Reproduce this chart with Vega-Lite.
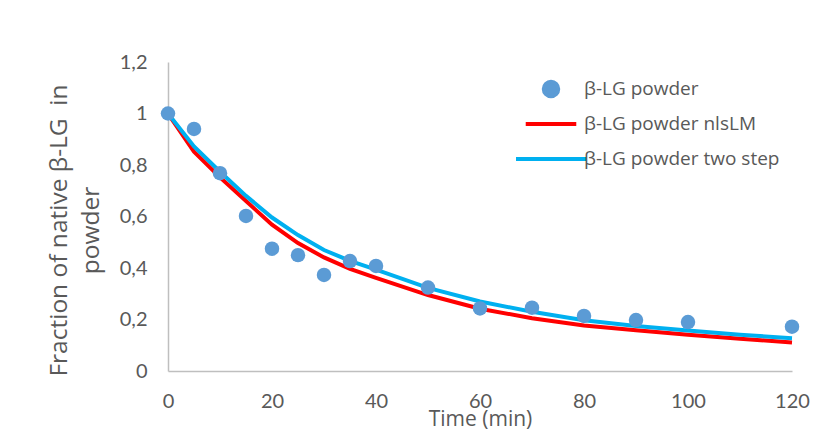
{
  "$schema": "https://vega.github.io/schema/vega-lite/v6.json",
  "width": 624,
  "height": 309,
  "autosize": "none",
  "padding": {"left": 168, "top": 62, "right": 26, "bottom": 65},
  "background": "white",
  "config": {
    "view": {"stroke": null},
    "font": "Lato",
    "axis": {
      "domainColor": "#bfbfbf",
      "domainWidth": 1.5,
      "ticks": false,
      "grid": false,
      "labelColor": "#595959",
      "labelFont": "Lato",
      "labelFontSize": 20,
      "labelFlush": false,
      "titleColor": "#595959",
      "titleFontWeight": "normal"
    },
    "legend": {
      "title": null,
      "orient": "none",
      "legendX": 346,
      "legendY": 13,
      "labelFont": "Open Sans",
      "labelFontSize": 19,
      "labelColor": "#595959",
      "labelLimit": 400,
      "labelOffset": -4,
      "clipHeight": 28,
      "rowPadding": 7,
      "symbolStrokeWidth": 4
    }
  },
  "datasets": {
    "points": [
      {"t": 0, "v": 1.0, "series": "β-LG powder"},
      {"t": 5, "v": 0.94, "series": "β-LG powder"},
      {"t": 10, "v": 0.768, "series": "β-LG powder"},
      {"t": 15, "v": 0.602, "series": "β-LG powder"},
      {"t": 20, "v": 0.475, "series": "β-LG powder"},
      {"t": 25, "v": 0.45, "series": "β-LG powder"},
      {"t": 30, "v": 0.373, "series": "β-LG powder"},
      {"t": 35, "v": 0.427, "series": "β-LG powder"},
      {"t": 40, "v": 0.408, "series": "β-LG powder"},
      {"t": 50, "v": 0.324, "series": "β-LG powder"},
      {"t": 60, "v": 0.243, "series": "β-LG powder"},
      {"t": 70, "v": 0.246, "series": "β-LG powder"},
      {"t": 80, "v": 0.214, "series": "β-LG powder"},
      {"t": 90, "v": 0.198, "series": "β-LG powder"},
      {"t": 100, "v": 0.19, "series": "β-LG powder"},
      {"t": 120, "v": 0.172, "series": "β-LG powder"}
    ],
    "curves": [
      {"t": 0, "v": 1.0, "series": "β-LG powder nlsLM"},
      {"t": 5, "v": 0.852, "series": "β-LG powder nlsLM"},
      {"t": 10, "v": 0.752, "series": "β-LG powder nlsLM"},
      {"t": 15, "v": 0.66, "series": "β-LG powder nlsLM"},
      {"t": 20, "v": 0.568, "series": "β-LG powder nlsLM"},
      {"t": 25, "v": 0.497, "series": "β-LG powder nlsLM"},
      {"t": 30, "v": 0.441, "series": "β-LG powder nlsLM"},
      {"t": 35, "v": 0.397, "series": "β-LG powder nlsLM"},
      {"t": 40, "v": 0.362, "series": "β-LG powder nlsLM"},
      {"t": 50, "v": 0.295, "series": "β-LG powder nlsLM"},
      {"t": 60, "v": 0.242, "series": "β-LG powder nlsLM"},
      {"t": 70, "v": 0.205, "series": "β-LG powder nlsLM"},
      {"t": 80, "v": 0.177, "series": "β-LG powder nlsLM"},
      {"t": 90, "v": 0.158, "series": "β-LG powder nlsLM"},
      {"t": 100, "v": 0.141, "series": "β-LG powder nlsLM"},
      {"t": 110, "v": 0.125, "series": "β-LG powder nlsLM"},
      {"t": 120, "v": 0.111, "series": "β-LG powder nlsLM"},
      {"t": 0, "v": 1.0, "series": "β-LG powder two step"},
      {"t": 5, "v": 0.872, "series": "β-LG powder two step"},
      {"t": 10, "v": 0.774, "series": "β-LG powder two step"},
      {"t": 15, "v": 0.68, "series": "β-LG powder two step"},
      {"t": 20, "v": 0.596, "series": "β-LG powder two step"},
      {"t": 25, "v": 0.528, "series": "β-LG powder two step"},
      {"t": 30, "v": 0.47, "series": "β-LG powder two step"},
      {"t": 35, "v": 0.428, "series": "β-LG powder two step"},
      {"t": 40, "v": 0.394, "series": "β-LG powder two step"},
      {"t": 50, "v": 0.323, "series": "β-LG powder two step"},
      {"t": 60, "v": 0.27, "series": "β-LG powder two step"},
      {"t": 70, "v": 0.23, "series": "β-LG powder two step"},
      {"t": 80, "v": 0.197, "series": "β-LG powder two step"},
      {"t": 90, "v": 0.175, "series": "β-LG powder two step"},
      {"t": 100, "v": 0.157, "series": "β-LG powder two step"},
      {"t": 110, "v": 0.141, "series": "β-LG powder two step"},
      {"t": 120, "v": 0.127, "series": "β-LG powder two step"}
    ]
  },
  "encoding": {
    "x": {
      "field": "t",
      "type": "quantitative",
      "scale": {"domain": [0, 120], "nice": false, "zero": false},
      "axis": {
        "values": [0, 20, 40, 60, 80, 100, 120],
        "labelPadding": 20,
        "title": "Time (min)",
        "titleFont": "Open Sans",
        "titleFontSize": 21,
        "titleY": 54,
        "titleBaseline": "alphabetic"
      }
    },
    "y": {
      "field": "v",
      "type": "quantitative",
      "scale": {"domain": [0, 1.2], "nice": false},
      "axis": {
        "values": [0, 0.2, 0.4, 0.6, 0.8, 1, 1.2],
        "labelExpr": "replace(format(datum.value, '~g'), '.', ',')",
        "labelPadding": 21,
        "title": ["Fraction of native β-LG \u00a0in", "powder"],
        "titleFont": "Open Sans",
        "titleFontSize": 24.5,
        "titleAngle": -90,
        "titleAlign": "center",
        "titleBaseline": "middle",
        "titleLineHeight": 32,
        "titleX": -109,
        "titleY": 168
      }
    },
    "color": {
      "field": "series",
      "type": "nominal",
      "scale": {
        "domain": ["β-LG powder", "β-LG powder nlsLM", "β-LG powder two step"],
        "range": ["#5b9bd5", "#ff0000", "#00b0f0"]
      }
    }
  },
  "layer": [
    {
      "data": {"name": "curves"},
      "mark": {"type": "line", "strokeWidth": 4}
    },
    {
      "data": {"name": "points"},
      "mark": {"type": "point", "filled": true, "opacity": 1},
      "encoding": {
        "shape": {
          "field": "series",
          "type": "nominal",
          "scale": {
            "domain": ["β-LG powder", "β-LG powder nlsLM", "β-LG powder two step"],
            "range": ["circle", "stroke", "stroke"]
          }
        },
        "size": {
          "field": "series",
          "type": "nominal",
          "scale": {
            "domain": ["β-LG powder", "β-LG powder nlsLM", "β-LG powder two step"],
            "range": [210, 4900, 4900]
          }
        }
      }
    }
  ]
}
